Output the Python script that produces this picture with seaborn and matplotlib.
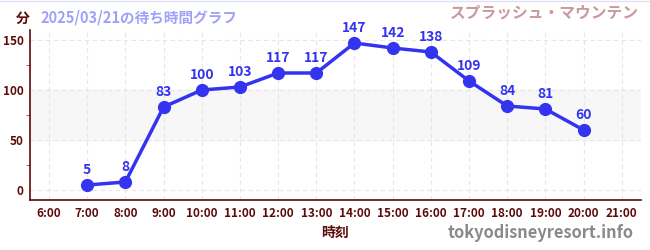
import matplotlib
matplotlib.use("Agg")
import matplotlib.pyplot as plt
import seaborn as sns
import pandas as pd
from matplotlib.ticker import MultipleLocator

sns.set_style("white")
plt.rcParams['font.family'] = ['Noto Sans CJK JP', 'DejaVu Sans']

# data
hours = [7, 8, 9, 10, 11, 12, 13, 14, 15, 16, 17, 18, 19, 20]
waits = [5, 8, 83, 100, 103, 117, 117, 147, 142, 138, 109, 84, 81, 60]
tick_hours = list(range(6, 22))
tick_labels = [f"{h}:00" for h in tick_hours]

df = pd.DataFrame({"hour": hours, "wait": waits})

maroon = "#5c0a0a"
blue = "#3333f0"

fig = plt.figure(figsize=(6.5, 2.5), dpi=100)
ax = fig.add_axes([0.046, 0.2, 0.94, 0.68])

# shaded band
ax.axhspan(50, 100, color="#f7f7f7", zorder=0)

sns.lineplot(data=df, x="hour", y="wait", ax=ax, color=blue, lw=2.5,
             marker="o", markersize=9.5, markeredgewidth=0, zorder=3)

for h, w in zip(hours, waits):
    ax.annotate(str(w), (h, w), xytext=(0, 5.5), textcoords="offset points",
                ha="center", va="bottom", color=blue, fontsize=10,
                fontweight="bold")

ax.set_xlim(5.5, 21.5)
ax.set_ylim(-10, 160)
ax.set_xticks(tick_hours)
ax.set_xticklabels(tick_labels)
ax.set_yticks([0, 50, 100, 150])
ax.yaxis.set_minor_locator(MultipleLocator(25))

ax.grid(True, which="major", color="#e6e6e6", ls=(0, (4, 3)), lw=0.8)
ax.set_axisbelow(True)

for s in ["top", "right"]:
    ax.spines[s].set_visible(False)
for s in ["left", "bottom"]:
    ax.spines[s].set_color(maroon)
    ax.spines[s].set_linewidth(1.2)

ax.tick_params(axis="x", which="major", direction="inout", length=6,
               color="#444444", labelsize=8.5, labelcolor=maroon, pad=2)
ax.tick_params(axis="y", which="major", direction="inout", length=7,
               color="#222222", labelsize=8.5, labelcolor=maroon, pad=1)
ax.tick_params(axis="y", which="minor", direction="out", length=3,
               color="#dd2222", left=True)
for lab in ax.get_xticklabels() + ax.get_yticklabels():
    lab.set_fontweight("bold")

ax.set_xlabel("時刻", color=maroon, fontsize=10, fontweight="bold", labelpad=4)
ax.set_ylabel("")

fig.text(0.035, 0.925, "分", color=maroon, fontsize=10, fontweight="bold",
         ha="center", va="center")
fig.text(0.062, 0.93, "2025/03/21の待ち時間グラフ", color="#a0a0f8",
         fontsize=10.5, fontweight="bold", ha="left", va="center")
fig.text(0.983, 0.95, "スプラッシュ・マウンテン", color="#c89a9a",
         fontsize=11.3, fontweight="bold", ha="right", va="center")
fig.text(0.975, 0.07, "tokyodisneyresort.info", color="#8a8a8a",
         fontsize=11.8, fontweight="bold", ha="right", va="center")

fig.add_artist(plt.Line2D([0, 1], [0.998, 0.998], color="#e0e0f8", lw=1,
                          transform=fig.transFigure))

fig.savefig("out.png", dpi=100)
